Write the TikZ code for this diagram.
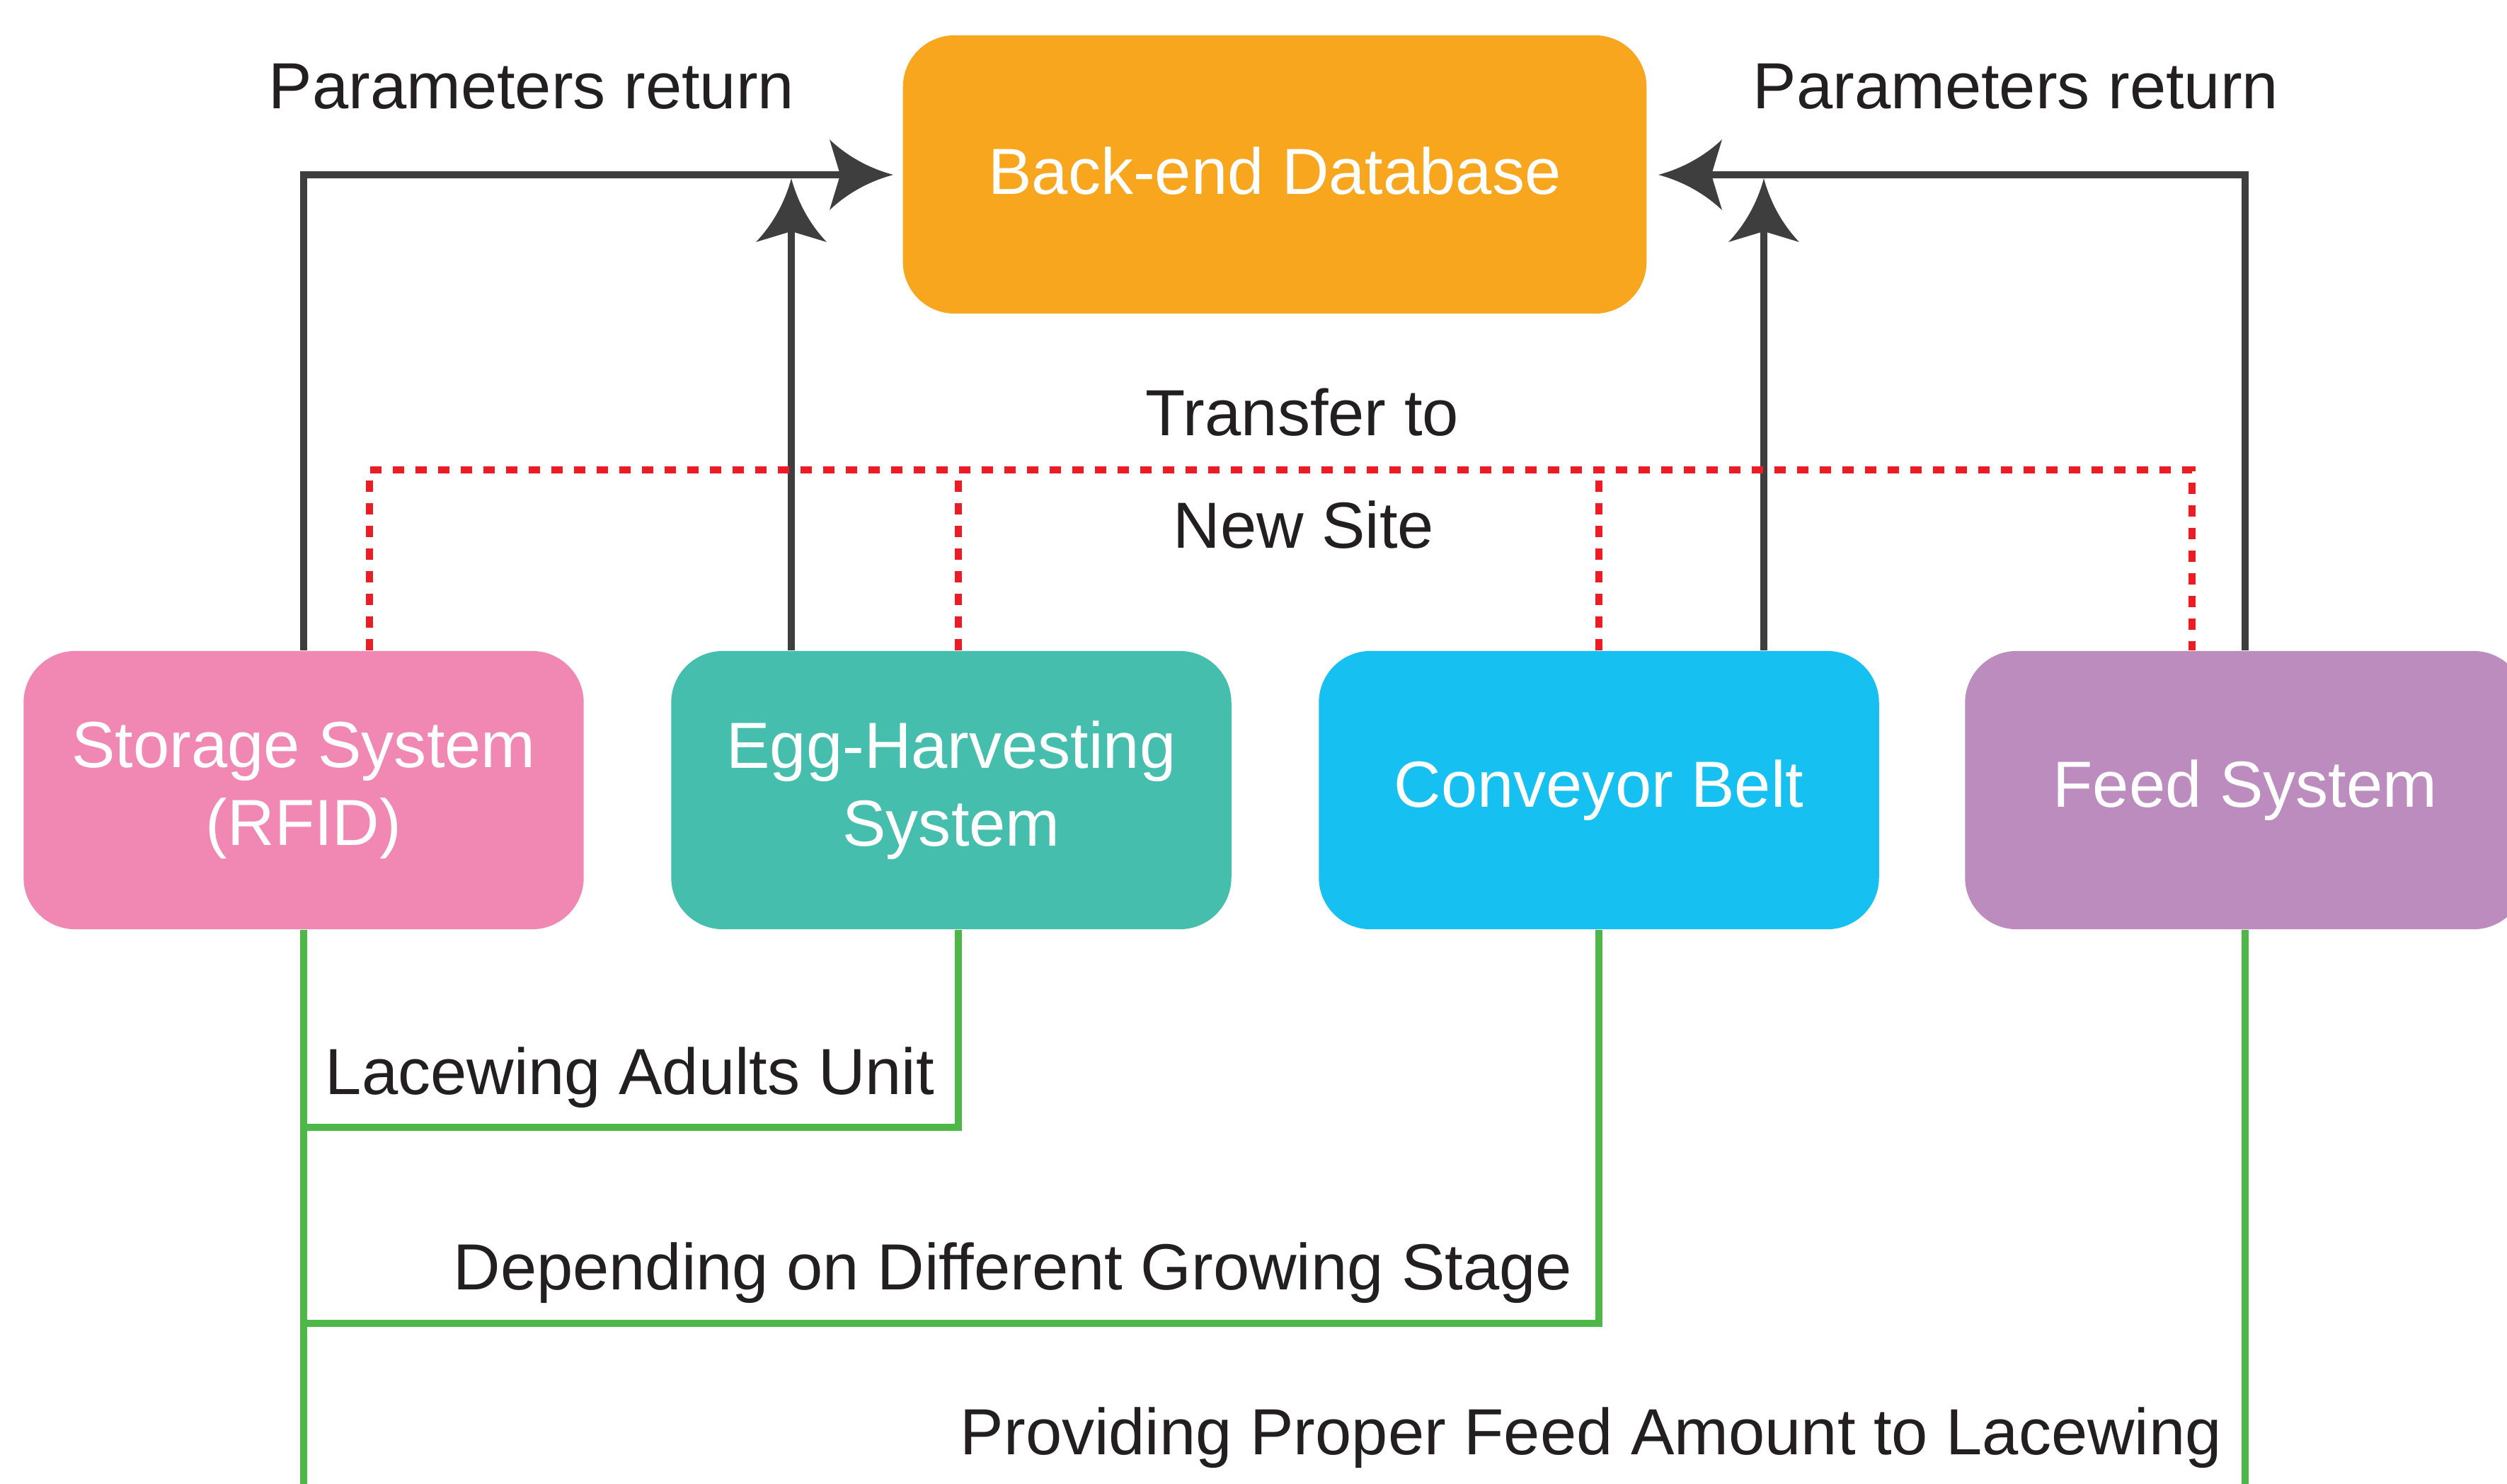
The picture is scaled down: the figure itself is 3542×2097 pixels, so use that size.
\documentclass[tikz,border=0pt]{standalone}
\usepackage{fontspec}
\setmainfont{Liberation Sans}
\usetikzlibrary{arrows.meta}
\definecolor{cOrange}{RGB}{247,166,30}
\definecolor{cPink}{RGB}{241,136,180}
\definecolor{cTeal}{RGB}{70,190,174}
\definecolor{cCyan}{RGB}{22,193,241}
\definecolor{cPurple}{RGB}{188,140,190}
\definecolor{cDark}{RGB}{62,62,62}
\definecolor{cRed}{RGB}{237,28,36}
\definecolor{cGreen}{RGB}{77,184,72}
\definecolor{cText}{RGB}{35,31,32}
\newcommand{\mysz}{\fontsize{26.2pt}{31.3pt}\selectfont}
\pgfdeclarearrow{
  name = CurvedStealth,
  setup code = {
    \pgfarrowssettipend{0pt}
    \pgfarrowssetlineend{-20pt}
    \pgfarrowssetbackend{-25.6pt}
    \pgfarrowssetvisualbackend{-21pt}
    \pgfarrowshullpoint{0pt}{0pt}
    \pgfarrowshullpoint{-25.6pt}{14.2pt}
    \pgfarrowshullpoint{-25.6pt}{-14.2pt}
  },
  drawing code = {
    \pgfpathmoveto{\pgfpointorigin}
    \pgfpathcurveto{\pgfpoint{-9pt}{2.4pt}}{\pgfpoint{-18pt}{7pt}}{\pgfpoint{-25.6pt}{14.2pt}}
    \pgfpathlineto{\pgfpoint{-21.3pt}{0pt}}
    \pgfpathlineto{\pgfpoint{-25.6pt}{-14.2pt}}
    \pgfpathcurveto{\pgfpoint{-18pt}{-7pt}}{\pgfpoint{-9pt}{-2.4pt}}{\pgfpointorigin}
    \pgfpathclose
    \pgfusepathqfill
  }
}
\begin{document}
\begin{tikzpicture}[x=0.01cm,y=-0.01cm,
  box/.style={rectangle, rounded corners=0.73cm, minimum width=7.91cm,
    minimum height=3.93cm, inner sep=0pt, text=white, align=center, font=\mysz},
  lbl/.style={text=cText, font=\mysz, inner sep=0pt, anchor=base},
  arr/.style={color=cDark, line width=2.85pt, -{CurvedStealth}},
  rd/.style={draw=cRed, line width=3.04pt, dash pattern=on 4.55pt off 4.55pt},
  gr/.style={draw=cGreen, line width=3.1pt}]
\useasboundingbox (0,0) rectangle (3542,2097);
\fill[white] (0,0) rectangle (3542,2097);

% coordinates
\coordinate (tl) at (1262,247);
\coordinate (tr) at (2343,247);
\coordinate (ev) at (1118,252);
\coordinate (cv) at (2492,252);
\coordinate (r1) at (522,664);
\coordinate (r2) at (1354,664);
\coordinate (r3) at (2259,664);
\coordinate (r4) at (3097,664);
\coordinate (g1) at (1354,1593);
\coordinate (g2) at (2259,1870);
\coordinate (bot) at (0,2110);

% boxes
\node[box, fill=cOrange, minimum width=10.5cm, text height=18.8pt, text depth=2.6pt] (db) at (1801,246.5) {Back-end Database};
\node[box, fill=cPink] (store) at (429,1116.5) {Storage System\\(RFID)};
\node[box, fill=cTeal] (egg) at (1344,1116.5) {Egg-Harvesting\\System};
\node[box, fill=cCyan] (conv) at (2259,1116.5) {Conveyor Belt};
\node[box, fill=cPurple] (feed) at (3172,1116.5) {Feed System};

% parameter return arrows
\draw[arr] (store.north) |- (tl);
\draw[arr] (egg.north -| ev) -- (ev);
\draw[arr] (feed.north) |- (tr);
\draw[arr] (conv.north -| cv) -- (cv);

% transfer (red dotted)
\draw[rd] (store.north -| r1) -- (r1) -- (r4) -- (feed.north -| r4);
\draw[rd] (egg.north -| r2) -- (r2);
\draw[rd] (conv.north) -- (r3);

% green links
\draw[gr] (store.south) -- (store.south |- bot);
\draw[gr] (egg.south -| g1) |- (store.south |- g1);
\draw[gr] (conv.south) |- (store.south |- g2);
\draw[gr] (feed.south) -- (feed.south |- bot);

% labels
\node[lbl] (pl) at (751,154) {Parameters return};
\node[lbl] (pr) at (2848,154) {Parameters return};
\node[lbl] (t1) at (1840,615) {Transfer to};
\node[lbl] (t2) at (1842,774) {New Site};
\node[lbl] (l1) at (890,1546) {Lacewing Adults Unit};
\node[lbl] (l2) at (1431,1822) {Depending on Different Growing Stage};
\node[lbl] (l3) at (2248,2055) {Providing Proper Feed Amount to Lacewing};
\end{tikzpicture}
\end{document}
